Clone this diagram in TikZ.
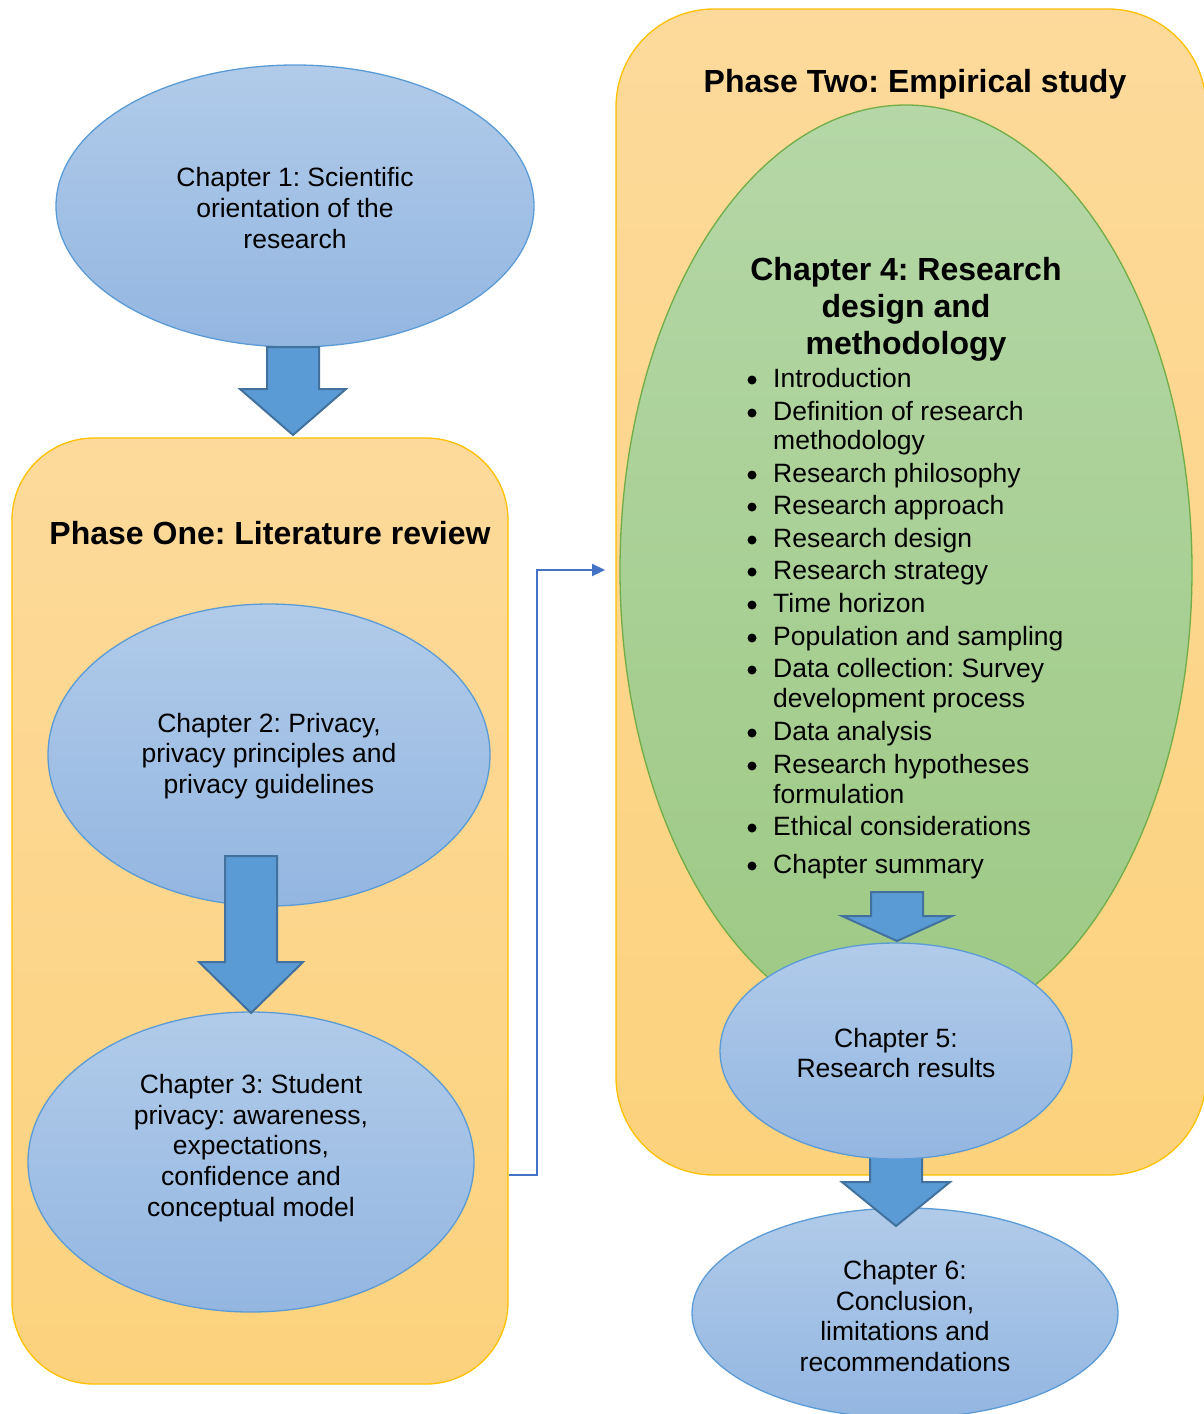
\documentclass[tikz,border=0pt]{standalone}
\usepackage{fontspec}
\setmainfont{Liberation Sans}
\usetikzlibrary{shapes.geometric,arrows.meta}
\frenchspacing

\definecolor{ellTop}{HTML}{B1CBE9}
\definecolor{ellBot}{HTML}{93B6E1}
\definecolor{ellLine}{HTML}{5B9BD5}
\definecolor{phaseTop}{HTML}{FDDA9B}
\definecolor{phaseBot}{HTML}{FCD27D}
\definecolor{phaseLine}{HTML}{FFC000}
\definecolor{greenTop}{HTML}{B5D7A7}
\definecolor{greenBot}{HTML}{9DC984}
\definecolor{greenLine}{HTML}{70AD47}
\definecolor{arrFill}{HTML}{5B9BD5}
\definecolor{arrLine}{HTML}{41719C}
\definecolor{connLine}{HTML}{4472C4}

\tikzset{
  phasebox/.style={rectangle, rounded corners=#1, draw=phaseLine, line width=1.3pt,
    top color=phaseTop, bottom color=phaseBot, inner sep=0pt},
  chapell/.style={ellipse, draw=ellLine, line width=1.3pt,
    top color=ellTop, bottom color=ellBot, inner sep=0pt},
  greenell/.style={ellipse, draw=greenLine, line width=1.3pt,
    top color=greenTop, bottom color=greenBot, inner sep=0pt},
  blockarrow/.style={fill=arrFill, draw=arrLine, line width=2pt, line join=miter},
  conn/.style={draw=connLine, line width=2.2pt, -{Triangle[length=13pt,width=12pt]}},
  bodytext/.style={font=\fontsize{26.5}{30.6}\selectfont, align=center, inner sep=0pt, text=black},
  titletext/.style={font=\fontsize{32}{37}\selectfont\bfseries, align=center, inner sep=0pt, text=black},
  itemtext/.style={font=\fontsize{26.5}{30.6}\selectfont, anchor=base west, inner sep=0pt, text=black},
  bulletdot/.style={circle, fill=black, inner sep=0pt, minimum size=9pt},
}

% down-pointing block arrow: centre x, shaft top, head base, tip, half shaft width, half head width
\newcommand{\downblock}[6]{%
  \draw[blockarrow] (#1-#5,#2) -- (#1+#5,#2) -- (#1+#5,#3) -- (#1+#6,#3)
    -- (#1,#4) -- (#1-#6,#3) -- (#1-#5,#3) -- cycle;}

\begin{document}
\begin{tikzpicture}[x=1pt,y=-1pt]
\useasboundingbox (0,0) rectangle (1203,1414);

% phase containers
\node[phasebox=82pt, minimum width=496pt, minimum height=946pt] (p1) at (260,911) {};
\node[phasebox=98pt, minimum width=590pt, minimum height=1166pt] (p2) at (911,592) {};

\node[titletext, anchor=base] (p1title) at (270,544) {Phase One: Literature review};
\node[titletext, anchor=base] (p2title) at (915,92) {Phase Two: Empirical study};

% chapter 1
\node[chapell, minimum width=478pt, minimum height=282pt] (c1) at (295,206) {};
\node[bodytext] (c1t) at (295,208) {Chapter 1: Scientific\\orientation of the\\research};

% chapters 2 and 3
\node[chapell, minimum width=442pt, minimum height=302pt] (c2) at (269,755) {};
\node[bodytext] (c2t) at (269,756) {Chapter 2: Privacy,\\privacy principles and\\privacy guidelines};
\node[chapell, minimum width=446pt, minimum height=300pt] (c3) at (251,1162) {};
\node[bodytext] (c3t) at (251,1148) {Chapter 3: Student\\privacy: awareness,\\expectations,\\confidence and\\conceptual model};

% chapter 4
\node[greenell, minimum width=572pt, minimum height=930pt] (c4) at (906,570) {};
\node[titletext] (c4t) at (906,309) {Chapter 4: Research\\design and\\methodology};

\foreach \yb/\txt [count=\i] in {
  387/Introduction, 420/Definition of research, 482/Research philosophy,
  514/Research approach, 547/Research design, 579/Research strategy,
  612/Time horizon, 645/Population and sampling, 677/Data collection: Survey,
  740/Data analysis, 773/Research hypotheses, 835/Ethical considerations,
  873/Chapter summary} {
  \node[bulletdot] (bul\i) at (752,\yb-7) {};
  \node[itemtext] (item\i) at (773,\yb) {\txt};
}
\foreach \yb/\txt [count=\i] in {449/methodology, 707/development process, 803/formulation} {
  \node[itemtext] (cont\i) at (773,\yb) {\txt};
}

% chapter 6, then chapter 5 over the arrow that leads down to it
\node[chapell, minimum width=426pt, minimum height=210pt] (c6) at (905,1313) {};
\node[bodytext] (c6t) at (905,1316) {Chapter 6:\\Conclusion,\\limitations and\\recommendations};
\downblock{896}{1150}{1182}{1226}{26}{54}
\node[chapell, minimum width=352pt, minimum height=216pt] (c5) at (896,1051) {};
\node[bodytext] (c5t) at (896,1053) {Chapter 5:\\Research results};
\downblock{897}{892}{916}{941}{26}{55}

% block arrows between chapters
\downblock{293}{347}{389}{435}{26}{53}
\downblock{251}{856}{962}{1013}{26}{52}

% link from phase one to phase two
\coordinate (linkout) at (p1.east |- 0,1175);
\coordinate (linkin) at (605,570);
\draw[conn] (linkout) -- (537,1175) |- (linkin);
\end{tikzpicture}
\end{document}
